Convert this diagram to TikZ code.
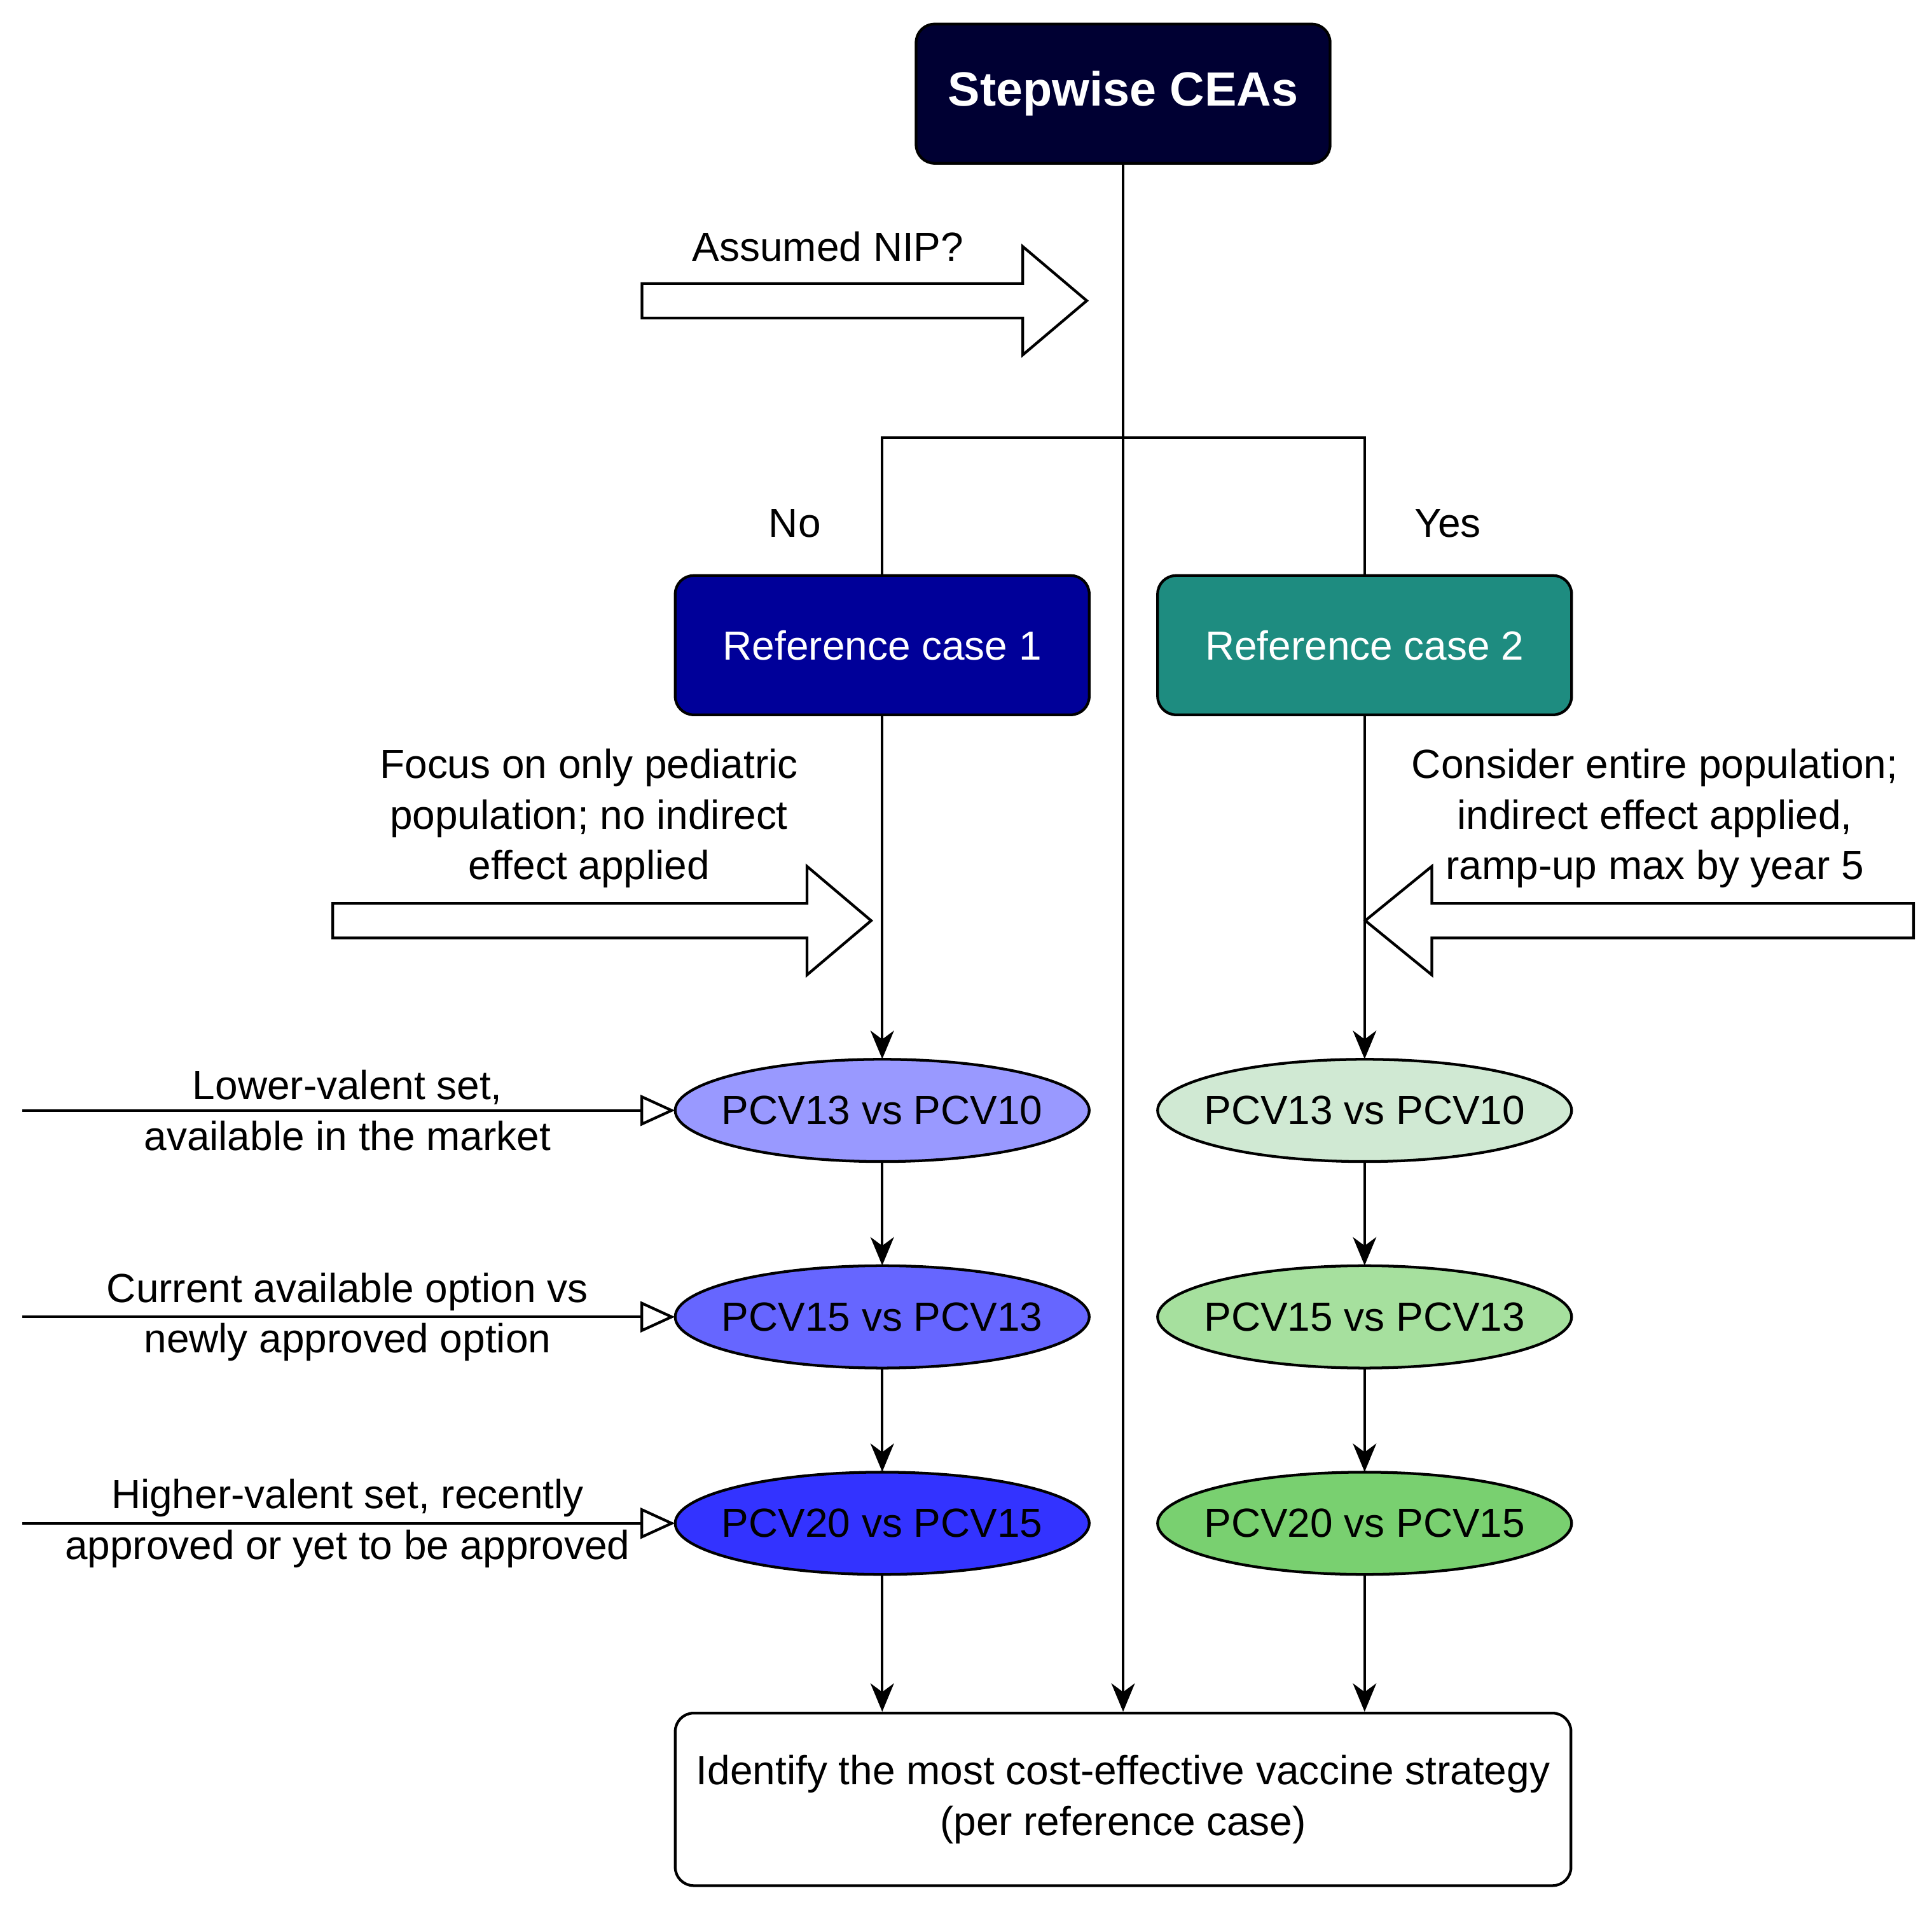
\documentclass[tikz,border=0pt]{standalone}
\usepackage{fontspec}
\setmainfont{Liberation Sans}
\usetikzlibrary{arrows.meta,shapes.geometric}
\definecolor{topc}{HTML}{000033}
\definecolor{refa}{HTML}{000099}
\definecolor{refb}{HTML}{1E8C80}
\definecolor{la}{HTML}{9999FF}
\definecolor{lb}{HTML}{6666FF}
\definecolor{lc}{HTML}{3333FF}
\definecolor{ra}{HTML}{D0E9D3}
\definecolor{rb}{HTML}{A6E09E}
\definecolor{rc}{HTML}{79D070}
\begin{document}
\begin{tikzpicture}[x=1pt,y=-1pt,
  every node/.style={font=\fontsize{33}{41}\selectfont},
  lw/.style={line width=2.2pt},
  boxst/.style={lw,draw=black,rounded corners=15pt,minimum width=336pt,minimum height=113pt,inner sep=0pt},
  ellst/.style={rectangle,minimum width=336pt,minimum height=83pt,inner sep=0pt},
  ellshape/.style={lw,draw=black},
  conn/.style={lw,-{Stealth[length=23pt,width=19pt,inset=7pt]}},
  inarrow/.style={lw,-{Triangle[open,length=28pt,width=25pt]}},
  blockarr/.style={lw,draw=black,fill=white,line join=miter},
  labtxt/.style={align=center,inner sep=0pt}
]
\useasboundingbox (0,0) rectangle (1568,1547);

% ellipse backgrounds
\draw[ellshape,fill=la] (716,901) ellipse [x radius=168, y radius=41.5];
\draw[ellshape,fill=lb] (716,1068.5) ellipse [x radius=168, y radius=41.5];
\draw[ellshape,fill=lc] (716,1236) ellipse [x radius=168, y radius=41.5];
\draw[ellshape,fill=ra] (1107.5,901) ellipse [x radius=168, y radius=41.5];
\draw[ellshape,fill=rb] (1107.5,1068.5) ellipse [x radius=168, y radius=41.5];
\draw[ellshape,fill=rc] (1107.5,1236) ellipse [x radius=168, y radius=41.5];

% nodes
\node[boxst,fill=topc,text=white,font=\fontsize{39}{47}\selectfont\bfseries] (top) at (911.5,76) {Stepwise CEAs};
\node[boxst,fill=refa,text=white] (ref1) at (716,523.5) {Reference case 1};
\node[boxst,fill=refb,text=white] (ref2) at (1107.5,523.5) {Reference case 2};

\node[ellst] (l1) at (716,901) {PCV13 vs PCV10};
\node[ellst] (l2) at (716,1068.5) {PCV15 vs PCV13};
\node[ellst] (l3) at (716,1236) {PCV20 vs PCV15};
\node[ellst] (r1) at (1107.5,901) {PCV13 vs PCV10};
\node[ellst] (r2) at (1107.5,1068.5) {PCV15 vs PCV13};
\node[ellst] (r3) at (1107.5,1236) {PCV20 vs PCV15};

\node[boxst,fill=white,minimum width=727pt,minimum height=140pt,align=center] (fin) at (911.5,1460) {Identify the most cost-effective vaccine strategy\\(per reference case)};

% branch
\coordinate (br) at (911.5,355);
\draw[lw] (ref1.north) |- (br) -| (ref2.north);
\draw[conn] (top.south) -- (fin.north);

\draw[conn] (ref1.south) -- (l1.north);
\draw[conn] (l1.south) -- (l2.north);
\draw[conn] (l2.south) -- (l3.north);
\draw[conn] (l3.south) -- (l3.south |- fin.north);
\draw[conn] (ref2.south) -- (r1.north);
\draw[conn] (r1.south) -- (r2.north);
\draw[conn] (r2.south) -- (r3.north);
\draw[conn] (r3.south) -- (r3.south |- fin.north);

% labels No / Yes
\node[anchor=base,inner sep=0pt] (no) at (645,436) {No};
\node[anchor=base,inner sep=0pt] (yes) at (1175,436) {Yes};

% block arrows
\draw[blockarr] (521,230) -- (830,230) -- (830,200) -- (882,244) -- (830,288) -- (830,258) -- (521,258) -- cycle;
\node[anchor=base,inner sep=0pt] (nip) at (672,212) {Assumed NIP?};

\draw[blockarr] (270,733) -- (655,733) -- (655,703) -- (707,747) -- (655,791) -- (655,761) -- (270,761) -- cycle;
\node[labtxt] (focus) at (478,664) {Focus on only pediatric\\population; no indirect\\effect applied};

\draw[blockarr] (1553,733) -- (1162,733) -- (1162,703) -- (1108,747) -- (1162,791) -- (1162,761) -- (1553,761) -- cycle;
\node[labtxt] (consider) at (1343,664) {Consider entire population;\\indirect effect applied,\\ramp-up max by year 5};

% input lines
\coordinate (s1) at (18,901);
\coordinate (s2) at (18,1068.5);
\coordinate (s3) at (18,1236);
\draw[inarrow] (s1) -- (l1.west);
\draw[inarrow] (s2) -- (l2.west);
\draw[inarrow] (s3) -- (l3.west);
\node[labtxt] (t1) at (282,901) {Lower-valent set,\\available in the market};
\node[labtxt] (t2) at (282,1068.5) {Current available option vs\\newly approved option};
\node[labtxt] (t3) at (282,1236) {Higher-valent set, recently\\approved or yet to be approved};
\end{tikzpicture}
\end{document}
